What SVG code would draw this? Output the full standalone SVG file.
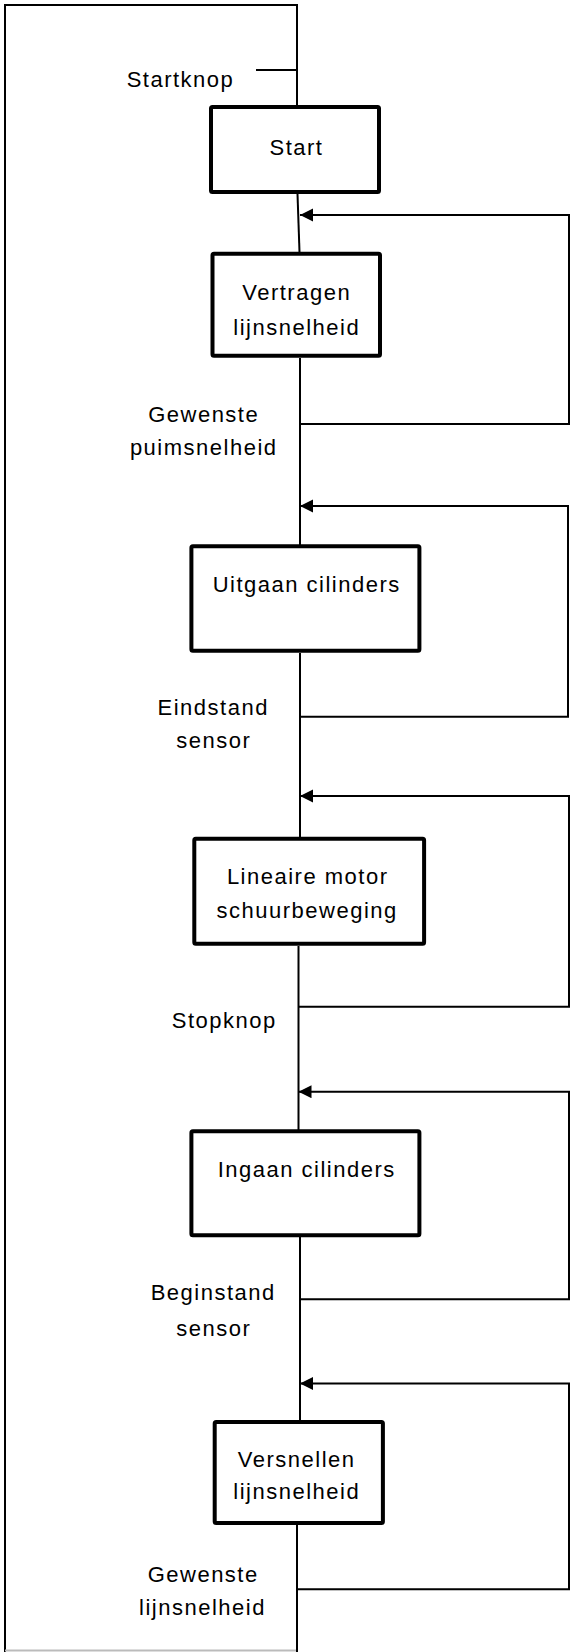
<svg xmlns="http://www.w3.org/2000/svg" width="572" height="1652" viewBox="0 0 572 1652">
  <style>
    .box { fill: #ffffff; stroke: #000000; stroke-width: 4; }
    .ln { fill: none; stroke: #000000; stroke-width: 2; }
    .t { font-family: "Liberation Sans", Arial, sans-serif; font-size: 22px; letter-spacing: 1.5px; fill: #000000; text-anchor: middle; }
  </style>
  <defs>
    <marker id="arr" markerUnits="userSpaceOnUse" markerWidth="14" markerHeight="14" refX="13" refY="6.5" orient="auto">
      <path d="M0,0 L13,6.5 L0,13 z" fill="#000000"/>
    </marker>
  </defs>
  <rect width="572" height="1652" fill="#ffffff"/>

  <g id="connectors">
    <!-- outer return loop -->
    <path class="ln" d="M297,105 V5 H5 V1652"/>
    <line x1="5" y1="1650.5" x2="297" y2="1650.5" stroke="#bbbbbb" stroke-width="2"/>
    <line class="ln" x1="256" y1="70" x2="297" y2="70"/>
    <!-- main flow -->
    <line class="ln" x1="297.5" y1="194" x2="299.5" y2="252"/>
    <line class="ln" x1="300" y1="358" x2="300" y2="545"/>
    <line class="ln" x1="300" y1="653" x2="300" y2="837"/>
    <line class="ln" x1="298.5" y1="946" x2="298.5" y2="1130"/>
    <line class="ln" x1="300" y1="1237" x2="300" y2="1420"/>
    <line class="ln" x1="297" y1="1525" x2="297" y2="1652"/>
    <!-- feedback loops -->
    <path class="ln" d="M300,424 H569 V215 H300" marker-end="url(#arr)"/>
    <path class="ln" d="M300,716.7 H568 V506 H300" marker-end="url(#arr)"/>
    <path class="ln" d="M298.5,1006.7 H569 V796 H300" marker-end="url(#arr)"/>
    <path class="ln" d="M300,1299.3 H569 V1091.7 H298.5" marker-end="url(#arr)"/>
    <path class="ln" d="M297,1589.3 H569 V1383.5 H300" marker-end="url(#arr)"/>
  </g>

  <g id="labels">
    <text class="t" x="180.5" y="86.5">Startknop</text>
    <text class="t" x="203.7" y="421.7">Gewenste</text>
    <text class="t" x="203.7" y="455">puimsnelheid</text>
    <text class="t" x="213.2" y="715">Eindstand</text>
    <text class="t" x="213.7" y="748.3">sensor</text>
    <text class="t" x="224.2" y="1028.3">Stopknop</text>
    <text class="t" x="213.2" y="1300">Beginstand</text>
    <text class="t" x="213.7" y="1336">sensor</text>
    <text class="t" x="203.2" y="1581.7">Gewenste</text>
    <text class="t" x="202.5" y="1615">lijnsnelheid</text>
  </g>

  <g id="node-start">
    <rect class="box" x="211" y="107" width="168" height="85" rx="1.5"/>
    <text class="t" x="296.5" y="155">Start</text>
  </g>
  <g id="node-vertragen">
    <rect class="box" x="212.5" y="253.7" width="167.5" height="102" rx="1.5"/>
    <text class="t" x="296.7" y="300">Vertragen</text>
    <text class="t" x="296.7" y="335">lijnsnelheid</text>
  </g>
  <g id="node-uitgaan">
    <rect class="box" x="191.4" y="546.3" width="228" height="104.4" rx="1.5"/>
    <text class="t" x="306.7" y="591.7">Uitgaan cilinders</text>
  </g>
  <g id="node-lineaire">
    <rect class="box" x="194.3" y="838.7" width="229.8" height="105" rx="1.5"/>
    <text class="t" x="307.7" y="884.3">Lineaire motor</text>
    <text class="t" x="307.2" y="917.7">schuurbeweging</text>
  </g>
  <g id="node-ingaan">
    <rect class="box" x="191.4" y="1131.3" width="228" height="104" rx="1.5"/>
    <text class="t" x="306.7" y="1176.7">Ingaan cilinders</text>
  </g>
  <g id="node-versnellen">
    <rect class="box" x="214.7" y="1422" width="168.2" height="101" rx="1.5"/>
    <text class="t" x="296.7" y="1467.3">Versnellen</text>
    <text class="t" x="296.7" y="1499.3">lijnsnelheid</text>
  </g>
</svg>
